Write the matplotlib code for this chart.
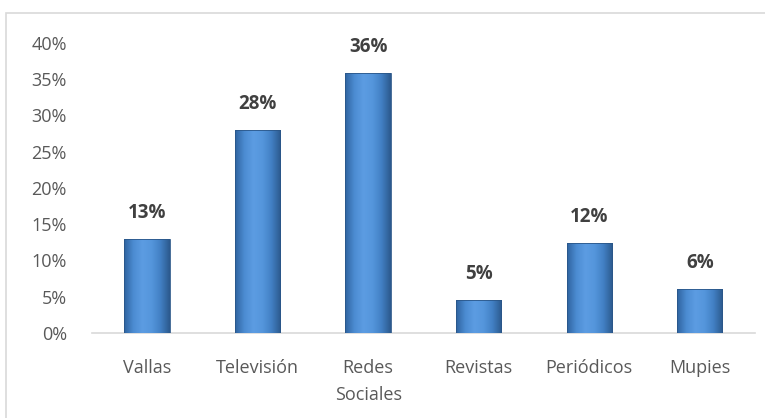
import matplotlib.pyplot as plt
import numpy as np
from matplotlib.colors import LinearSegmentedColormap
from matplotlib.patches import Rectangle

medios = ["Vallas", "Televisión", "Redes\nSociales", "Revistas", "Periódicos", "Mupies"]
porcentajes = [0.13, 0.28, 0.358, 0.046, 0.124, 0.061]
yticks = [0.0, 0.05, 0.10, 0.15, 0.20, 0.25, 0.30, 0.35, 0.40]

plt.rcParams["font.family"] = ["Open Sans", "DejaVu Sans"]

fig = plt.figure(figsize=(7.65, 4.18), dpi=100)
fig.patches.append(
    Rectangle((6 / 765, -0.1), 1.1, 1 - 13 / 418 + 0.1, transform=fig.transFigure,
              fill=False, edgecolor="#d9d9d9", linewidth=1.2)
)
ax = fig.add_axes([0.120, 0.2033, 0.867, 0.694])

# bevelled bar look: dark edges, light middle
bevel = LinearSegmentedColormap.from_list(
    "bevel", ["#2f64a0", "#4c8cd2", "#5c9ce2", "#5596dc", "#4280c4", "#2c5a8e"]
)
grad = np.linspace(0, 1, 64).reshape(1, -1)

width = 0.41
x = np.arange(len(medios))
bars = ax.bar(x, porcentajes, width=width, color="#4a8ad0", zorder=2)
for b in bars:
    img = ax.imshow(grad, cmap=bevel, aspect="auto", zorder=3,
                    extent=(b.get_x(), b.get_x() + b.get_width(), 0, b.get_height()))
    img.set_clip_path(b)
    ax.add_patch(Rectangle((b.get_x(), 0), b.get_width(), b.get_height(),
                           fill=False, edgecolor="#2a5688", linewidth=0.6, zorder=4))

for xi, v in zip(x, porcentajes):
    ax.text(xi, v + 0.022, f"{round(v * 100):.0f}%", ha="center", va="bottom",
            fontsize=13.5, fontweight="bold", color="#404040")

ax.set_xlim(-0.5, len(medios) - 0.5)
ax.set_ylim(0, 0.40)
ax.set_xticks(x)
ax.set_xticklabels(medios, fontsize=13, color="#595959", linespacing=1.6)
ax.set_yticks(yticks)
ax.set_yticklabels([f"{t * 100:.0f}%" for t in yticks], fontsize=13, color="#595959")
ax.tick_params(length=0)
ax.tick_params(axis="y", pad=18)
ax.tick_params(axis="x", pad=19)

for s in ["top", "right", "left"]:
    ax.spines[s].set_visible(False)
ax.spines["bottom"].set_color("#d9d9d9")
ax.spines["bottom"].set_linewidth(1.2)

fig.savefig("out.png", dpi=100)
